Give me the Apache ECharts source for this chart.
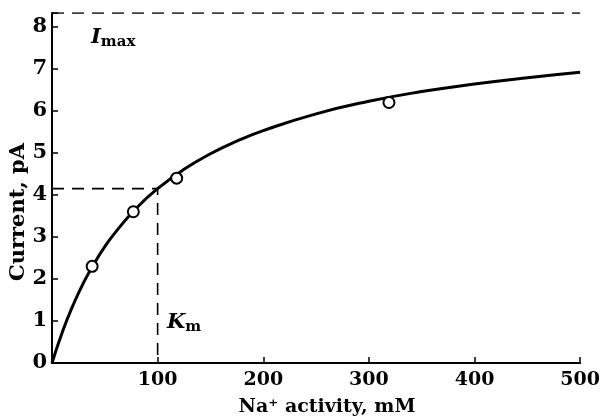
<!DOCTYPE html>
<html><head><meta charset="utf-8">
<script src="https://cdn.jsdelivr.net/npm/echarts@6/dist/echarts.min.js"></script>
<style>html,body{margin:0;padding:0;background:#fff}#c{width:603px;height:419px}</style>
</head><body><div id="c"></div>
<script>
// Measured data points (Na+ activity mM, current pA)
const pointX = [38, 77, 118, 319];
const pointY = [2.3, 3.6, 4.4, 6.2];
// Fitted curve
const curveX = [0, 10, 20, 30, 40, 50, 60, 80, 100, 125, 150, 175, 200, 250, 300, 350, 400, 450, 500];
const curveY = [0, 0.75, 1.38, 1.92, 2.37, 2.77, 3.11, 3.69, 4.15, 4.61, 4.98, 5.28, 5.53, 5.93, 6.23, 6.46, 6.64, 6.79, 6.92];
// Reference lines
const imax = 8.33;
const km = 100;
const kmCurrent = 4.15;
const xTicks = [100, 200, 300, 400, 500];
const yTicks = [0, 1, 2, 3, 4, 5, 6, 7, 8];

const FONT = '"DejaVu Serif", serif';
const chart = echarts.init(document.getElementById('c'));
chart.setOption({
  animation: false,
  backgroundColor: '#fff',
  grid: {left: 52, right: 18, top: 13, bottom: 56},
  xAxis: {
    type: 'value', min: 0, max: 500, interval: 100,
    axisLine: {show: true, lineStyle: {color: '#000', width: 2}},
    axisTick: {show: true, inside: true, length: 6, lineStyle: {color: '#000', width: 1.5}},
    axisLabel: {color: '#000', fontFamily: FONT, fontWeight: 'bold', fontSize: 19, margin: 8,
      formatter: v => xTicks.indexOf(v) >= 0 ? String(v) : ''},
    splitLine: {show: false}
  },
  yAxis: {
    type: 'value', min: 0, max: imax, interval: 1,
    axisLine: {show: true, lineStyle: {color: '#000', width: 2}},
    axisTick: {show: true, inside: true, length: 6, lineStyle: {color: '#000', width: 1.5}},
    axisLabel: {color: '#000', fontFamily: FONT, fontWeight: 'bold', fontSize: 21, margin: 5,
      formatter: v => yTicks.indexOf(v) >= 0 ? String(v) : ''},
    splitLine: {show: false}
  },
  series: [
    {type: 'line', data: [[0, imax], [500, imax]], symbol: 'none',
      lineStyle: {color: '#000', width: 1.6, type: [12, 8]}, z: 1},
    {type: 'line', data: [[0, kmCurrent], [km, kmCurrent], [km, 0]], symbol: 'none',
      lineStyle: {color: '#000', width: 1.6, type: [12, 8]}, z: 1},
    {type: 'line', data: curveX.map((x, i) => [x, curveY[i]]), symbol: 'none', smooth: true,
      lineStyle: {color: '#000', width: 3}, z: 2},
    {type: 'scatter', data: pointX.map((x, i) => [x, pointY[i]]), symbol: 'circle', symbolSize: 11,
      itemStyle: {color: '#fff', borderColor: '#000', borderWidth: 2, opacity: 1}, z: 3}
  ],
  graphic: [
    {type: 'text', left: 91, top: 27, style: {
      text: '{i|I}{s|max}', rich: {
        i: {fontFamily: FONT, fontStyle: 'italic', fontWeight: 'bold', fontSize: 21, fill: '#000'},
        s: {fontFamily: FONT, fontWeight: 'bold', fontSize: 15, fill: '#000', padding: [10, 0, 0, 0]}
      }}},
    {type: 'text', left: 167, top: 312, style: {
      text: '{i|K}{s|m}', rich: {
        i: {fontFamily: FONT, fontStyle: 'italic', fontWeight: 'bold', fontSize: 21, fill: '#000'},
        s: {fontFamily: FONT, fontWeight: 'bold', fontSize: 15, fill: '#000', padding: [10, 0, 0, 0]}
      }}},
    {type: 'text', x: 327, y: 407, style: {
      text: 'Na⁺ activity, mM', align: 'center', verticalAlign: 'middle',
      fontFamily: FONT, fontWeight: 'bold', fontSize: 19, fill: '#000'}},
    {type: 'text', x: 19, y: 212, rotation: Math.PI / 2, style: {
      text: 'Current, pA', align: 'center', verticalAlign: 'middle',
      fontFamily: FONT, fontWeight: 'bold', fontSize: 21, fill: '#000'}}
  ]
});
</script></body></html>
